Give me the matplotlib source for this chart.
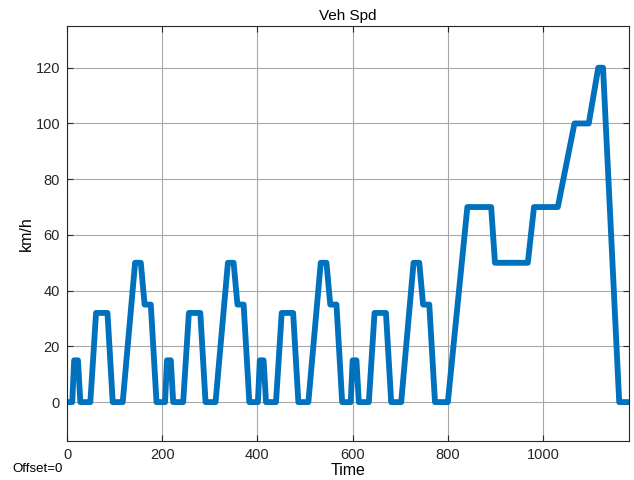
import numpy as np
import matplotlib
matplotlib.use("Agg")
import matplotlib.pyplot as plt

plt.rcParams['font.family'] = ['Liberation Sans', 'DejaVu Sans']

# ECE-15 urban segment breakpoints (s, km/h), run four times back to back
ece_time = [0, 11, 15, 23, 28, 49, 61, 85, 96, 117, 143, 155, 163, 176, 188, 195]
ece_speed = [0, 0, 15, 15, 0, 0, 32, 32, 0, 0, 50, 50, 35, 35, 0, 0]
ece_repeats = 4
ece_length = 195

# extra-urban segment breakpoints (s, km/h)
eudc_time = [800, 841, 891, 899, 968, 981, 1031, 1066, 1096, 1116, 1126, 1160, 1180]
eudc_speed = [0, 70, 70, 50, 50, 70, 70, 100, 100, 120, 120, 0, 0]

x_ticks = [0, 200, 400, 600, 800, 1000]
y_ticks = [0, 20, 40, 60, 80, 100, 120]

t = []
v = []
for k in range(ece_repeats):
    t += [p + k * ece_length for p in ece_time]
    v += ece_speed
t += eudc_time
v += eudc_speed

fig = plt.figure(figsize=(6.34, 4.8), dpi=100)
ax = fig.add_axes([0.1057, 0.081, 0.886, 0.865])

ax.plot(t, v, color='#0072BD', lw=4.2, solid_joinstyle='round', solid_capstyle='round')

ax.set_xlim(0, 1180)
ax.set_ylim(-14, 135)
ax.set_xticks(x_ticks)
ax.set_yticks(y_ticks)
ax.grid(True, color='#a8a8a8', lw=0.8)
ax.set_axisbelow(True)
ax.tick_params(direction='in', top=True, right=True, length=4, width=0.8,
               colors='#262626', labelsize=10.5, pad=5)
for s in ax.spines.values():
    s.set_color('#262626')
    s.set_linewidth(0.8)

ax.set_title('Veh Spd', fontsize=11, color='#000000', pad=4)
ax.set_xlabel('Time', fontsize=11.5, labelpad=1)
ax.set_ylabel('km/h', fontsize=11.5, labelpad=1)
fig.text(0.019, 0.016, 'Offset=0', fontsize=9.5, color='#000000')

fig.savefig('out.png', dpi=100)
